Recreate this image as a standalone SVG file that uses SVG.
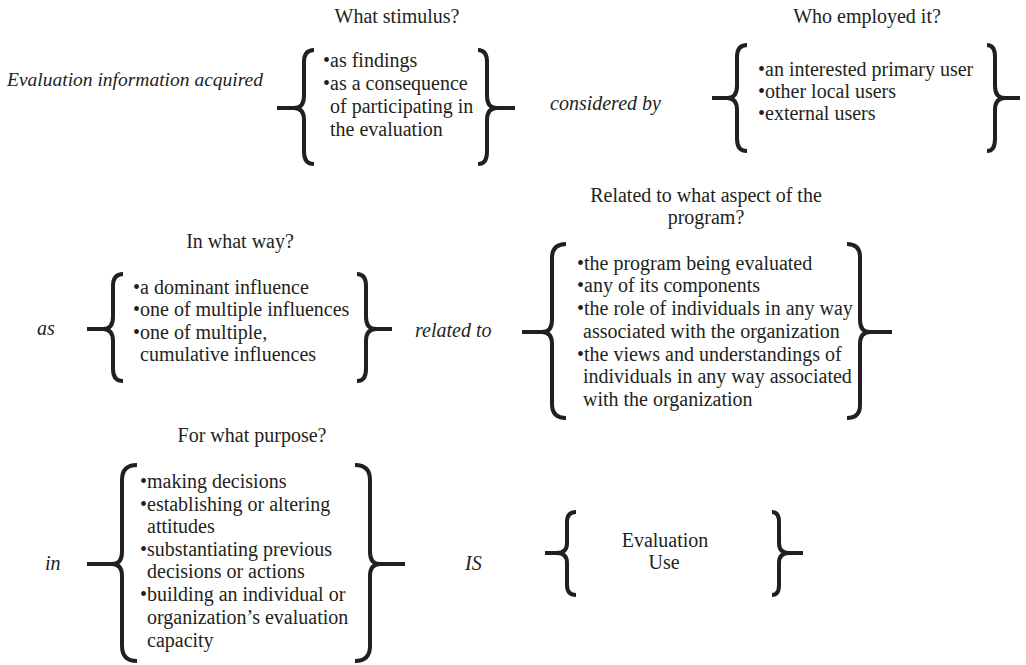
<svg xmlns="http://www.w3.org/2000/svg" width="1026" height="665" viewBox="0 0 1026 665">
<style>
text{font-family:"Liberation Serif","Times New Roman",serif;font-size:20px;fill:#231f20}
.h{text-anchor:middle}
.i{font-style:italic}
.b{fill:none;stroke:#231f20;stroke-width:4;stroke-linecap:butt;stroke-linejoin:round}
</style>
<rect width="1026" height="665" fill="#fff"/>
<g id="labels">
<text class="i" x="7" y="86" style="font-size:19.5px">Evaluation information acquired</text>
<text class="i" x="550" y="110">considered by</text>
<text class="i" x="37" y="335">as</text>
<text class="i" x="415" y="337">related to</text>
<text class="i" x="45" y="570">in</text>
<text class="i" x="465" y="570">IS</text>
</g>
<g id="stimulus">
<text class="h" x="397" y="23">What stimulus?</text>
<path class="b" d="M314,50 Q304,50 304,62 L304,96 Q304,108 294,108 L277,108 M294,108 Q304,108 304,120 L304,152 Q304,164 314,164"/>
<path class="b" d="M478,50 Q487,50 487,62 L487,96 Q487,108 497,108 L515,108 M497,108 Q487,108 487,120 L487,152 Q487,164 478,164"/>
<text x="323" y="67">•as findings</text>
<text x="323" y="90">•as a consequence</text>
<text x="330" y="113">of participating in</text>
<text x="330" y="136">the evaluation</text>
</g>
<g id="employed">
<text class="h" x="867" y="23">Who employed it?</text>
<path class="b" d="M747,45 Q737,45 737,57 L737,86 Q737,98 727,98 L712,98 M727,98 Q737,98 737,110 L737,139 Q737,151 747,151"/>
<path class="b" d="M987,45 Q995,45 995,57 L995,86 Q995,98 1005,98 L1020,98 M1005,98 Q995,98 995,110 L995,139 Q995,151 987,151"/>
<text x="758" y="76">•an interested primary user</text>
<text x="758" y="98">•other local users</text>
<text x="758" y="120">•external users</text>
</g>
<g id="way">
<text class="h" x="240" y="248">In what way?</text>
<path class="b" d="M123,274 Q113,274 113,286 L113,317 Q113,329 103,329 L87,329 M103,329 Q113,329 113,341 L113,369 Q113,381 123,381"/>
<path class="b" d="M357,274 Q366,274 366,286 L366,317 Q366,329 376,329 L392,329 M376,329 Q366,329 366,341 L366,369 Q366,381 357,381"/>
<text x="133" y="294">•a dominant influence</text>
<text x="133" y="316">•one of multiple influences</text>
<text x="133" y="339">•one of multiple,</text>
<text x="140" y="361">cumulative influences</text>
</g>
<g id="aspect">
<text class="h" x="706" y="202">Related to what aspect of the</text>
<text class="h" x="706" y="224">program?</text>
<path class="b" d="M566,244 Q552,244 552,258 L552,320 Q552,332 542,332 L522,332 M542,332 Q552,332 552,344 L552,404 Q552,418 566,418"/>
<path class="b" d="M847,244 Q860,244 860,257 L860,320 Q860,332 870,332 L892,332 M870,332 Q860,332 860,344 L860,405 Q860,418 847,418"/>
<text x="577" y="270">•the program being evaluated</text>
<text x="577" y="292">•any of its components</text>
<text x="577" y="315">•the role of individuals in any way</text>
<text x="583" y="338">associated with the organization</text>
<text x="577" y="361">•the views and understandings of</text>
<text x="583" y="383">individuals in any way associated</text>
<text x="583" y="406">with the organization</text>
</g>
<g id="purpose">
<text class="h" x="252" y="442">For what purpose?</text>
<path class="b" d="M137,465 Q122,465 122,480 L122,552 Q122,564 112,564 L87,564 M112,564 Q122,564 122,576 L122,646 Q122,661 137,661"/>
<path class="b" d="M355,465 Q370,465 370,480 L370,552 Q370,564 380,564 L405,564 M380,564 Q370,564 370,576 L370,646 Q370,661 355,661"/>
<text x="140" y="488">•making decisions</text>
<text x="140" y="511">•establishing or altering</text>
<text x="147" y="533">attitudes</text>
<text x="140" y="556">•substantiating previous</text>
<text x="147" y="578">decisions or actions</text>
<text x="140" y="601">•building an individual or</text>
<text x="147" y="624">organization’s evaluation</text>
<text x="147" y="647">capacity</text>
</g>
<g id="use">
<path class="b" d="M576,512 Q567,512 567,522 L567,543 Q567,553 557,553 L545,553 M557,553 Q567,553 567,563 L567,585 Q567,595 576,595"/>
<path class="b" d="M772,512 Q779,512 779,522 L779,543 Q779,553 789,553 L803,553 M789,553 Q779,553 779,563 L779,585 Q779,595 772,595"/>
<text class="h" x="665" y="547">Evaluation</text>
<text class="h" x="664" y="569">Use</text>
</g>
</svg>
